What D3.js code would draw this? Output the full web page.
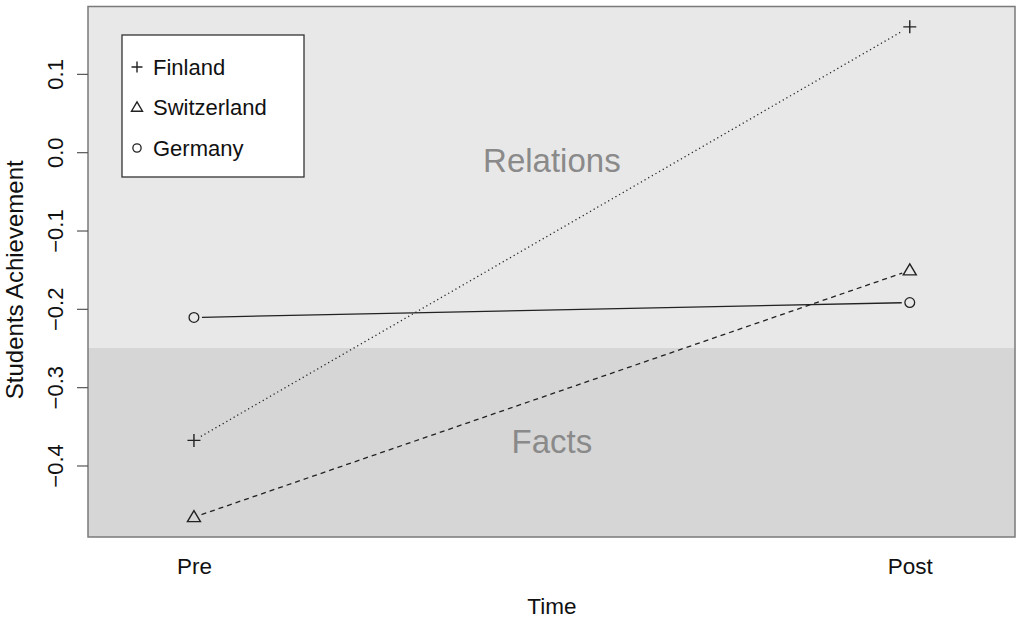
<!DOCTYPE html>
<html><head><meta charset="utf-8">
<script src="https://cdn.jsdelivr.net/npm/d3@7"></script>
<style>body{margin:0;background:#fff}svg{display:block;font-family:"Liberation Sans",Arial,Helvetica,sans-serif}</style>
</head><body><svg id="c" width="1016" height="618"></svg>
<script>
const timepoints = ["Pre", "Post"];
const countries = ["Finland", "Switzerland", "Germany"];
const finland = [-0.368, 0.160];
const switzerland = [-0.466, -0.151];
const germany = [-0.211, -0.192];
const yTicks = [0.1, 0.0, -0.1, -0.2, -0.3, -0.4];
const zoneLabels = ["Relations", "Facts"];
const zoneLabelValues = [-0.025, -0.384];
const zoneBoundary = -0.25;

const svg = d3.select("#c");
const L = 88, R = 1015, T = 6.5, B = 537;
const x = d3.scaleLinear().domain([0.852, 2.147]).range([L, R]);
const y = d3.scaleLinear().domain([0.186, -0.4913]).range([T, B]);

// zones
svg.append("rect").attr("x", L).attr("y", T).attr("width", R - L).attr("height", y(zoneBoundary) - T).attr("fill", "#e8e8e8");
svg.append("rect").attr("x", L).attr("y", y(zoneBoundary)).attr("width", R - L).attr("height", B - y(zoneBoundary)).attr("fill", "#d6d6d6");

// zone labels
svg.selectAll("text.zone").data(zoneLabels).join("text").attr("class", "zone")
  .attr("x", x(1.5)).attr("y", (d, i) => y(zoneLabelValues[i]))
  .attr("text-anchor", "middle").attr("font-size", 33).attr("fill", "#8a8a8a").text(d => d);

// border
svg.append("rect").attr("x", L).attr("y", T).attr("width", R - L).attr("height", B - T)
  .attr("fill", "none").attr("stroke", "#7a7a7a").attr("stroke-width", 1.5);

// y axis
const yAxis = d3.axisLeft(y).tickValues(yTicks).tickSize(11).tickPadding(0).tickFormat(d3.format(".1f"));
const ga = svg.append("g").attr("transform", `translate(${L},0)`).call(yAxis);
ga.select(".domain").remove();
ga.selectAll(".tick line").attr("stroke", "#555").attr("stroke-width", 1.2);
ga.selectAll(".tick text").remove();
ga.selectAll(".tick").append("text").attr("transform", "translate(-25,0) rotate(-90)")
  .attr("text-anchor", "middle").attr("font-size", 22).attr("fill", "#111")
  .attr("font-family", '"Liberation Sans",Arial,sans-serif')
  .text(d => d3.format(".1f")(d).replace("-", "\u2212"));

// x labels
const xAxis = d3.axisBottom(x).tickValues([1, 2]).tickSize(0).tickPadding(0).tickFormat((d, i) => timepoints[i]);
const gx = svg.append("g").attr("transform", `translate(0,${B})`).call(xAxis);
gx.select(".domain").remove();
gx.selectAll(".tick text").remove();
gx.selectAll(".tick").append("text").attr("y", 37).attr("text-anchor", "middle")
  .attr("font-size", 22.5).attr("fill", "#111").attr("font-family", '"Liberation Sans",Arial,sans-serif')
  .text((d, i) => timepoints[i]);

// axis titles
svg.append("text").attr("x", x(1.5)).attr("y", 614).attr("text-anchor", "middle").attr("font-size", 22.5).attr("fill", "#111").text("Time");
svg.append("text").attr("transform", `translate(23,${(T + B) / 2 + 8}) rotate(-90)`).attr("text-anchor", "middle").attr("font-size", 24).attr("fill", "#111").text("Students Achievement");

// series
const series = [
  {name: countries[0], vals: finland, dash: "1.2,3", sym: "plus"},
  {name: countries[1], vals: switzerland, dash: "5,4", sym: "tri"},
  {name: countries[2], vals: germany, dash: null, sym: "circ"}
];
const col = "#222";
function drawSym(g, sym, cx, cy, s) {
  if (sym === "plus") {
    g.append("path").attr("d", `M${cx - s},${cy}H${cx + s}M${cx},${cy - s}V${cy + s}`).attr("stroke", col).attr("stroke-width", 1.4).attr("fill", "none");
  } else if (sym === "tri") {
    const h = s * 1.7;
    g.append("path").attr("d", `M${cx},${cy - h * 0.6}L${cx + s},${cy + h * 0.4}L${cx - s},${cy + h * 0.4}Z`).attr("stroke", col).attr("stroke-width", 1.4).attr("fill", "none");
  } else {
    g.append("circle").attr("cx", cx).attr("cy", cy).attr("r", s * 0.75).attr("stroke", col).attr("stroke-width", 1.3).attr("fill", "none");
  }
}
const gs = svg.append("g");
series.forEach(s => {
  const x1 = x(1), y1 = y(s.vals[0]), x2 = x(2), y2 = y(s.vals[1]);
  const len = Math.hypot(x2 - x1, y2 - y1), gap = 8;
  const ux = (x2 - x1) / len, uy = (y2 - y1) / len;
  const ln = gs.append("line").attr("x1", x1 + ux * gap).attr("y1", y1 + uy * gap)
    .attr("x2", x2 - ux * gap).attr("y2", y2 - uy * gap).attr("stroke", col).attr("stroke-width", 1.3);
  if (s.dash) ln.attr("stroke-dasharray", s.dash);
  s.vals.forEach((v, i) => drawSym(gs, s.sym, x(i + 1), y(v), 6.5));
});

// legend
const lg = svg.append("g");
lg.append("rect").attr("x", 122).attr("y", 35).attr("width", 182).attr("height", 142).attr("fill", "#fff").attr("stroke", "#333").attr("stroke-width", 1.3);
series.forEach((s, i) => {
  const cy = 67 + i * 40.5;
  drawSym(lg, s.sym, 137, cy, 5.5);
  lg.append("text").attr("x", 153).attr("y", cy + 7.5).attr("font-size", 22).attr("fill", "#111").text(s.name);
});
</script></body></html>
